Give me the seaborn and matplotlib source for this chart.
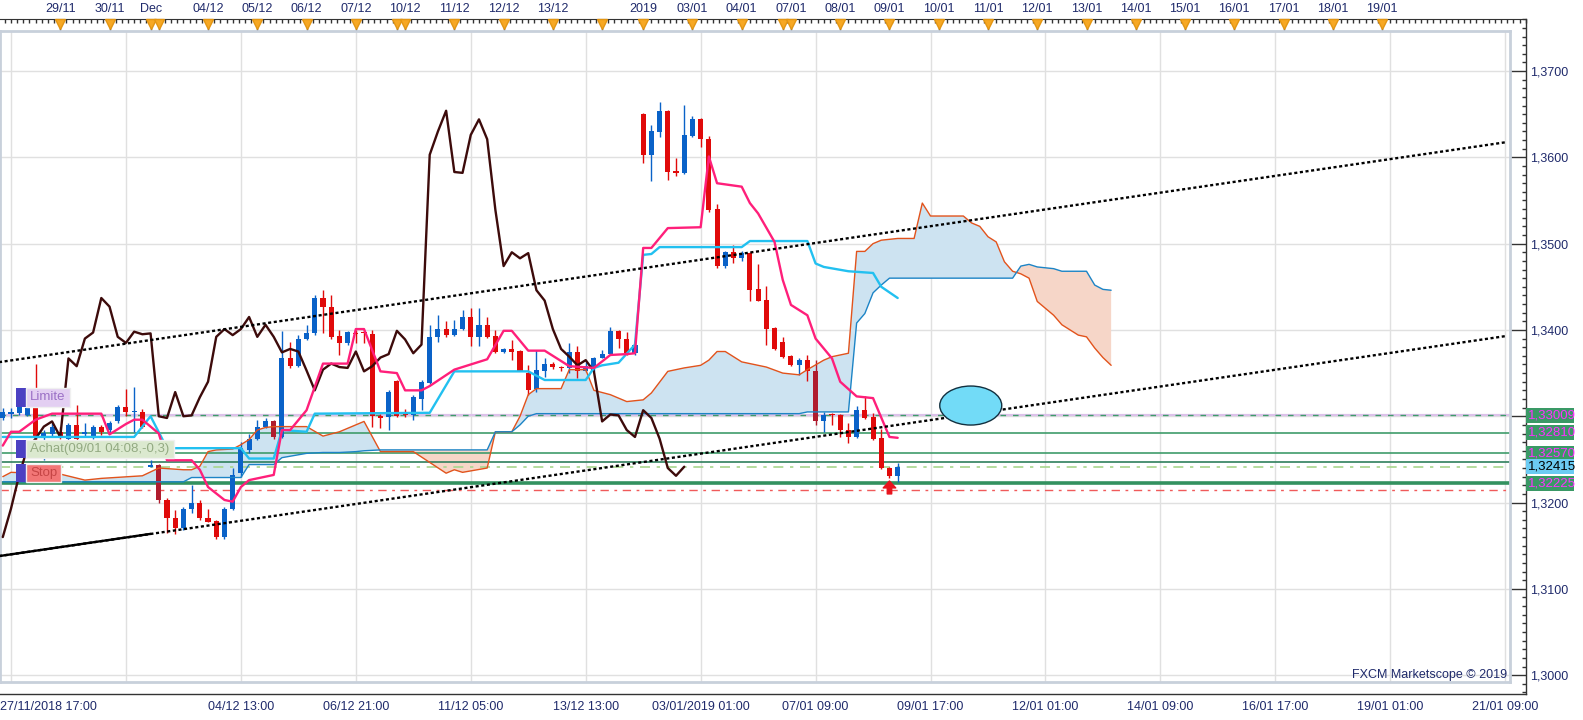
import numpy as np
import pandas as pd
import matplotlib
matplotlib.use("Agg")
import matplotlib.pyplot as plt
import matplotlib.transforms as mtransforms
from matplotlib.patches import Ellipse, Rectangle
from matplotlib.ticker import MultipleLocator, FuncFormatter
import seaborn as sns

sns.set_style("white")
plt.rcParams['font.family'] = ['Liberation Sans', 'DejaVu Sans']

# H4 candles, bar 0 = 27/11/2018 17:00
bars = list(range(-1, 109))
opens = [1.3298, 1.3303, 1.3304, 1.3302, 1.3311, 1.3276, 1.3280, 1.3282, 1.3274, 1.3290,
         1.3279, 1.3276, 1.3288, 1.3284, 1.3294, 1.3311, 1.3305, 1.3305, 1.3241, 1.3244,
         1.3203, 1.3182, 1.3170, 1.3192, 1.3200, 1.3182, 1.3179, 1.3160, 1.3193, 1.3234,
         1.3261, 1.3274, 1.3288, 1.3294, 1.3276, 1.3367, 1.3358, 1.3390, 1.3396, 1.3437,
         1.3427, 1.3393, 1.3385, 1.3397, 1.3397, 1.3395, 1.3300, 1.3299, 1.3341, 1.3302,
         1.3301, 1.3320, 1.3338, 1.3392, 1.3401, 1.3394, 1.3401, 1.3415, 1.3392, 1.3406,
         1.3393, 1.3374, 1.3378, 1.3376, 1.3350, 1.3331, 1.3353, 1.3361, 1.3357, 1.3356,
         1.3375, 1.3353, 1.3357, 1.3368, 1.3372, 1.3399, 1.3390, 1.3373, 1.3650, 1.3603,
         1.3629, 1.3654, 1.3584, 1.3582, 1.3625, 1.3644, 1.3621, 1.3540, 1.3474, 1.3490,
         1.3483, 1.3489, 1.3447, 1.3435, 1.3402, 1.3386, 1.3370, 1.3359, 1.3365, 1.3352,
         1.3294, 1.3303, 1.3301, 1.3284, 1.3276, 1.3307, 1.3299, 1.3275, 1.3240, 1.3231]
highs = [1.3310, 1.3310, 1.3314, 1.3313, 1.3360, 1.3284, 1.3292, 1.3288, 1.3292, 1.3313,
         1.3292, 1.3290, 1.3290, 1.3294, 1.3313, 1.3332, 1.3334, 1.3308, 1.3249, 1.3245,
         1.3205, 1.3191, 1.3195, 1.3220, 1.3203, 1.3192, 1.3180, 1.3195, 1.3240, 1.3270,
         1.3280, 1.3296, 1.3298, 1.3296, 1.3399, 1.3386, 1.3394, 1.3406, 1.3441, 1.3446,
         1.3441, 1.3400, 1.3399, 1.3400, 1.3400, 1.3400, 1.3303, 1.3330, 1.3342, 1.3308,
         1.3325, 1.3342, 1.3406, 1.3417, 1.3410, 1.3411, 1.3423, 1.3425, 1.3425, 1.3415,
         1.3400, 1.3379, 1.3388, 1.3377, 1.3359, 1.3377, 1.3367, 1.3363, 1.3358, 1.3385,
         1.3381, 1.3363, 1.3369, 1.3377, 1.3403, 1.3400, 1.3398, 1.3385, 1.3651, 1.3638,
         1.3664, 1.3655, 1.3599, 1.3661, 1.3648, 1.3645, 1.3625, 1.3546, 1.3491, 1.3498,
         1.3492, 1.3490, 1.3476, 1.3451, 1.3403, 1.3392, 1.3371, 1.3368, 1.3371, 1.3365,
         1.3305, 1.3304, 1.3303, 1.3292, 1.3312, 1.3323, 1.3304, 1.3285, 1.3241, 1.3246]
lows = [1.3296, 1.3298, 1.3302, 1.3300, 1.3272, 1.3249, 1.3276, 1.3274, 1.3272, 1.3272,
        1.3276, 1.3274, 1.3278, 1.3282, 1.3292, 1.3300, 1.3282, 1.3286, 1.3241, 1.3200,
        1.3165, 1.3164, 1.3168, 1.3188, 1.3180, 1.3177, 1.3158, 1.3158, 1.3191, 1.3230,
        1.3257, 1.3272, 1.3286, 1.3274, 1.3275, 1.3356, 1.3357, 1.3388, 1.3394, 1.3396,
        1.3390, 1.3371, 1.3383, 1.3385, 1.3385, 1.3288, 1.3286, 1.3284, 1.3299, 1.3299,
        1.3296, 1.3307, 1.3337, 1.3386, 1.3392, 1.3393, 1.3400, 1.3381, 1.3381, 1.3391,
        1.3373, 1.3373, 1.3365, 1.3352, 1.3325, 1.3328, 1.3346, 1.3355, 1.3353, 1.3350,
        1.3344, 1.3351, 1.3353, 1.3367, 1.3371, 1.3379, 1.3371, 1.3371, 1.3593, 1.3573,
        1.3623, 1.3574, 1.3578, 1.3581, 1.3624, 1.3612, 1.3537, 1.3472, 1.3472, 1.3478,
        1.3480, 1.3434, 1.3433, 1.3383, 1.3377, 1.3367, 1.3358, 1.3348, 1.3341, 1.3290,
        1.3282, 1.3290, 1.3276, 1.3269, 1.3275, 1.3297, 1.3273, 1.3239, 1.3228, 1.3224]
closes = [1.3305, 1.3305, 1.3311, 1.3309, 1.3276, 1.3281, 1.3287, 1.3276, 1.3290, 1.3274,
          1.3282, 1.3288, 1.3282, 1.3292, 1.3311, 1.3305, 1.3306, 1.3288, 1.3244, 1.3203,
          1.3182, 1.3170, 1.3193, 1.3200, 1.3182, 1.3178, 1.3160, 1.3193, 1.3232, 1.3263,
          1.3274, 1.3288, 1.3294, 1.3276, 1.3367, 1.3358, 1.3390, 1.3397, 1.3437, 1.3427,
          1.3392, 1.3385, 1.3398, 1.3395, 1.3396, 1.3300, 1.3298, 1.3328, 1.3300, 1.3301,
          1.3322, 1.3340, 1.3392, 1.3401, 1.3394, 1.3401, 1.3415, 1.3392, 1.3406, 1.3392,
          1.3374, 1.3378, 1.3375, 1.3353, 1.3330, 1.3354, 1.3361, 1.3357, 1.3356, 1.3375,
          1.3352, 1.3358, 1.3368, 1.3372, 1.3399, 1.3389, 1.3373, 1.3383, 1.3603, 1.3630,
          1.3654, 1.3583, 1.3582, 1.3626, 1.3644, 1.3621, 1.3539, 1.3474, 1.3490, 1.3483,
          1.3489, 1.3446, 1.3434, 1.3401, 1.3378, 1.3369, 1.3359, 1.3365, 1.3352, 1.3294,
          1.3302, 1.3301, 1.3284, 1.3276, 1.3307, 1.3298, 1.3274, 1.3240, 1.3231, 1.32415]
dark_bars = [18, 32, 98]

# Ichimoku lines
tenkan_x = [-1, 0, 1, 3, 5, 11, 12, 14, 15, 16, 18, 19, 22, 23, 24, 26, 27, 28, 29, 32,
            33, 34, 36, 37, 38, 41, 42, 43, 45, 47, 48, 50, 51, 54, 58, 60, 61, 63, 65, 68,
            71, 73, 75, 76, 77, 78, 80, 84, 85, 86, 89, 90, 91, 93, 94, 95, 97, 98, 100, 101,
            103, 105, 107, 108]
tenkan = [1.3266, 1.3282, 1.3282, 1.3296, 1.3303, 1.3303, 1.3279, 1.3291, 1.3296, 1.3296,
          1.3280, 1.3249, 1.3249, 1.3238, 1.3218, 1.3203, 1.3201, 1.3218, 1.3226, 1.3232,
          1.3284, 1.3284, 1.3307, 1.3334, 1.3361, 1.3361, 1.3401, 1.3401, 1.3352, 1.3350,
          1.3330, 1.3330, 1.3335, 1.3354, 1.3366, 1.3399, 1.3399, 1.3376, 1.3376, 1.3358,
          1.3356, 1.3371, 1.3372, 1.3373, 1.3495, 1.3495, 1.3518, 1.3519, 1.3601, 1.3570,
          1.3566, 1.3547, 1.3535, 1.3502, 1.3458, 1.3429, 1.3417, 1.3390, 1.3367, 1.3340,
          1.3323, 1.3321, 1.3276, 1.3275]
kijun_x = [-1, 15, 17, 19, 28, 29, 32, 33, 36, 37, 51, 54, 63, 65, 70, 71, 72, 74, 76, 77,
           78, 79, 89, 90, 97, 98, 99, 102, 105, 106, 108]
kijun = [1.3276, 1.3276, 1.3300, 1.3263, 1.3263, 1.3251, 1.3251, 1.3284, 1.3282, 1.3303,
         1.3304, 1.3352, 1.3352, 1.3342, 1.3342, 1.3356, 1.3359, 1.3362, 1.3383, 1.3487,
         1.3488, 1.3496, 1.3496, 1.3503, 1.3503, 1.3477, 1.3473, 1.3468, 1.3466, 1.3450,
         1.3437]
cloud_x = [-1, 0, 6, 9, 11, 16, 18, 21, 22, 23, 24, 25, 27, 28, 29, 30, 31, 32, 33, 36,
           38, 40, 42, 43, 45, 49, 53, 54, 55, 58, 59, 61, 62, 63, 64, 67, 68, 70, 71, 73,
           75, 77, 78, 80, 82, 84, 85, 86, 87, 88, 89, 90, 92, 94, 96, 97, 99, 100, 102, 103,
           104, 105, 106, 107, 108, 110, 111, 112, 116, 117, 118, 119, 120, 121, 122, 123, 124, 125, 126, 127,
           128, 130, 131, 132, 133, 134]
span_a = [1.3230, 1.3235, 1.3233, 1.3226, 1.3228, 1.3231, 1.3240, 1.3238, 1.3238, 1.3242,
          1.3259, 1.3261, 1.3262, 1.3267, 1.3273, 1.3284, 1.3287, 1.3288, 1.3288, 1.3288,
          1.3277, 1.3282, 1.3290, 1.3294, 1.3259, 1.3259, 1.3234, 1.3238, 1.3235, 1.3240,
          1.3282, 1.3282, 1.3300, 1.3325, 1.3332, 1.3332, 1.3354, 1.3354, 1.3330, 1.3325,
          1.3317, 1.3319, 1.3327, 1.3352, 1.3356, 1.3359, 1.3365, 1.3375, 1.3375, 1.3369,
          1.3363, 1.3361, 1.3357, 1.3350, 1.3348, 1.3354, 1.3365, 1.3369, 1.3373, 1.3491,
          1.3491, 1.3500, 1.3504, 1.3505, 1.3506, 1.3506, 1.3547, 1.3532, 1.3532, 1.3524,
          1.3520, 1.3508, 1.3502, 1.3479, 1.3468, 1.3465, 1.3460, 1.3433, 1.3425, 1.3417,
          1.3406, 1.3394, 1.3392, 1.3379, 1.3368, 1.3359]
span_b = ([1.3224] * 8 + [1.3229] * 6 + [1.3244] * 4
          + [1.3252, 1.3257, 1.3258, 1.3258, 1.3259, 1.3260]
          + [1.3261] * 6 + [1.3282, 1.3282, 1.3290, 1.3300]
          + [1.3303] * 21 + [1.3305] * 4
          + [1.3408, 1.3419, 1.3443, 1.3452]
          + [1.3460] * 12
          + [1.3474, 1.3476, 1.3473, 1.3472, 1.3471, 1.3468, 1.3468, 1.3468, 1.3452, 1.3447, 1.3446])

# channel lines (bar, price)
channel_x = [-2, 182]
upper_line = [1.33619, 1.36174]
lower_line = [1.31372, 1.33928]
lower_solid_x = [-2, 17]
lower_solid = [1.31372, 1.31637]

# order levels
order_prices = [1.33009, 1.32810, 1.32570, 1.32470, 1.32415, 1.32225, 1.32140]
tag_prices = [1.33009, 1.32810, 1.32570, 1.32415, 1.32225]
tag_labels = ['1,33009', '1,32810', '1,32570', '1,32415', '1,32225']

# target ellipse and entry arrow
target_center = (116.9, 1.33124)
target_size = (7.55, 0.00452)
entry_bar = 107
entry_arrow = (1.3210, 1.3225)

grid_bars = list(range(0, 183, 14))
bottom_labels = ['27/11/2018 17:00', '', '04/12 13:00', '06/12 21:00', '11/12 05:00', '13/12 13:00',
                 '03/01/2019 01:00', '07/01 09:00', '09/01 17:00', '12/01 01:00', '14/01 09:00',
                 '16/01 17:00', '19/01 01:00', '21/01 09:00']
day_bars = [6, 12, 17, 18, 24, 30, 36, 42, 47, 48, 54, 60, 66, 72, 77, 83, 89, 94, 95, 101,
            107, 113, 119, 125, 131, 137, 143, 149, 155, 161, 167]
day_labels = ['29/11', '30/11', 'Dec', '', '04/12', '05/12', '06/12', '07/12', '', '10/12',
              '11/12', '12/12', '13/12', '', '2019', '03/01', '04/01', '', '07/01', '08/01',
              '09/01', '10/01', '11/01', '12/01', '13/01', '14/01', '15/01', '16/01', '17/01',
              '18/01', '19/01']

df = pd.DataFrame({'bar': bars, 'open': opens, 'high': highs, 'low': lows, 'close': closes})
df['chikou'] = df['close'].shift(-26)

# ---- layout (pixels of the 1583x720 picture)
W, H = 1583, 720
BAR_PX, BAR0_PX = 8.21, 11
PRICE0, PRICE_PX = 1.37823, 0.00011587


def bar_at(px):
    return (px - BAR0_PX) / BAR_PX


def price_at(py):
    return PRICE0 - py * PRICE_PX


def box(l, t, r, b):
    return [l / W, 1 - b / H, (r - l) / W, (b - t) / H]


TXT = '#1f2a6b'
BLUE, RED, DARKRED = '#0a62c8', '#e00a0a', '#b01c2e'
GREEN = '#3f9c6b'

fig = plt.figure(figsize=(15.83, 7.2), dpi=100)
ax_out = fig.add_axes(box(0, 19, 1526, 694))
ax = fig.add_axes(box(0, 31, 1510, 682))
ax_out.set_zorder(0)
ax.set_zorder(1)

ax.set_xlim(bar_at(0), bar_at(1510))
ax.set_ylim(price_at(682), price_at(31))
ax_out.set_xlim(bar_at(0), bar_at(1526))
ax_out.set_ylim(price_at(694), price_at(19))

# main panel grid and frame
ax.set_xticks(grid_bars)
ax.set_yticks(np.arange(1.30, 1.3705, 0.01))
ax.set_axisbelow(True)
ax.grid(True, color='#e0e0e0', lw=1)
ax.tick_params(length=0, labelbottom=False, labelleft=False)
for s in ax.spines.values():
    s.set_color('#c8d0db')
    s.set_linewidth(2)

# cloud
ca, cb = np.array(span_a), np.array(span_b)
ax.fill_between(cloud_x, ca, cb, where=ca >= cb, interpolate=True, color='#cde3f1', lw=0, zorder=1)
ax.fill_between(cloud_x, ca, cb, where=ca < cb, interpolate=True, color='#f6d6c8', lw=0, zorder=1)

# order levels
ax.axhline(order_prices[0], color='#dcc2ea', lw=1.6, zorder=1.5)
ax.axhline(order_prices[0], color=GREEN, lw=1, ls=(0, (4, 5)), zorder=1.6)
ax.axhline(order_prices[1], color=GREEN, lw=1.2, zorder=1.5)
ax.axhline(order_prices[2], color=GREEN, lw=1.2, zorder=1.5)
ax.axhline(order_prices[3], color='#2f7f5c', lw=1.2, zorder=1.5)
ax.axhline(order_prices[4], color='#a8d68e', lw=1.2, ls=(0, (6, 4, 2, 4)), zorder=1.5)
ax.axhline(order_prices[5], color='#33915f', lw=2.6, zorder=1.5)
ax.axhline(order_prices[6], color='#f05a5a', lw=1, ls=(0, (6, 4, 2, 4)), zorder=1.5)

# candles
colors = [BLUE if c >= o else RED for o, c in zip(df['open'], df['close'])]
colors = [DARKRED if b in dark_bars else col for b, col in zip(df['bar'], colors)]
ax.vlines(df['bar'], df['low'], df['high'], colors=colors, lw=1, zorder=3)
body = np.maximum((df['close'] - df['open']).abs(), 0.00012)
ax.bar(df['bar'], body, bottom=np.minimum(df['open'], df['close']), width=0.62,
       color=colors, lw=0, zorder=3.2)

# ichimoku lines
sns.lineplot(x=cloud_x, y=span_a, ax=ax, color='#e2531c', lw=1, zorder=3.5)
sns.lineplot(x=cloud_x, y=span_b, ax=ax, color='#1c84c6', lw=1, zorder=3.5)
sns.lineplot(data=df.dropna(subset=['chikou']), x='bar', y='chikou', ax=ax,
             color='#3d0b0b', lw=1.7, zorder=4)
sns.lineplot(x=kijun_x, y=kijun, ax=ax, color='#22c0f0', lw=1.7, zorder=4.1)
sns.lineplot(x=tenkan_x, y=tenkan, ax=ax, color='#ff1f7a', lw=1.7, zorder=4.2)

# channel
ax.plot(channel_x, upper_line, color='black', lw=1.7, ls=(0, (1.3, 1.1)), zorder=5)
ax.plot(channel_x, lower_line, color='black', lw=1.7, ls=(0, (1.3, 1.1)), zorder=5)
ax.plot(lower_solid_x, lower_solid, color='black', lw=1.7, zorder=5)

ax.add_patch(Ellipse(target_center, target_size[0], target_size[1], fc='#72dbf7',
                     ec='#12303f', lw=1, zorder=6))
ax.annotate('', xy=(entry_bar, entry_arrow[1]), xytext=(entry_bar, entry_arrow[0]),
            arrowprops=dict(facecolor='#e8141e', edgecolor='#e8141e', width=3.2,
                            headwidth=9, headlength=5, shrink=0), zorder=6)
ax.set_xlabel('')
ax.set_ylabel('')
if ax.get_legend():
    ax.get_legend().remove()


# order labels on the left
def fy(py):
    return (682 - py) / 651


def order_label(text, top, bottom, right, face, fg):
    tr = ax.transAxes
    ax.add_patch(Rectangle((16 / 1510, fy(bottom)), 10 / 1510, fy(top) - fy(bottom),
                           transform=tr, fc='#4b40c2', ec='none', zorder=8))
    ax.add_patch(Rectangle((26 / 1510, fy(bottom)), (right - 26) / 1510, fy(top) - fy(bottom),
                           transform=tr, fc=face, ec='#f0f0f0', lw=1, zorder=8))
    ax.text(30 / 1510, fy((top + bottom) / 2), text, transform=tr, color=fg,
            fontsize=9.5, va='center', ha='left', zorder=9)


order_label('Limite', 388, 407, 70, '#e3cff2', '#9b70c6')
order_label('Achat(09/01 04:08,-0,3)', 440, 458, 174, '#dbe9cf', '#93aa82')
order_label('Stop', 464, 482, 61, '#f27676', '#c54545')

ax.text(1507 / 1510, fy(675), 'FXCM Marketscope \u00a9 2019', transform=ax.transAxes,
        ha='right', va='center', fontsize=9, color=TXT, zorder=9)

# ---- rulers
ax_out.set_facecolor('none')
ax_out.spines['left'].set_visible(False)
ax_out.spines['top'].set_visible(False)
for k in ['right', 'bottom']:
    ax_out.spines[k].set_color('#333333')
    ax_out.spines[k].set_linewidth(1)

ax_out.set_xticks(grid_bars, labels=bottom_labels)
ax_out.xaxis.set_minor_locator(MultipleLocator(1.75))
ax_out.tick_params(axis='x', which='major', direction='in', length=8.6, width=1,
                   pad=5, labelsize=9, labelcolor=TXT, color='#333333')
ax_out.tick_params(axis='x', which='minor', direction='in', length=3, width=1, color='#333333')
first = ax_out.xaxis.get_major_ticks()[0].label1
first.set_horizontalalignment('left')
first.set_transform(first.get_transform()
                    + mtransforms.ScaledTranslation(-11 / 100, 0, fig.dpi_scale_trans))


def price_label(v, _):
    # the 1,3300 label sits under the limit tag in the reference
    if abs(v - 1.33) < 1e-6:
        return ''
    return f"{v:.4f}".replace('.', ',')


ax_out.yaxis.tick_right()
ax_out.set_yticks(np.arange(1.30, 1.3705, 0.01))
ax_out.yaxis.set_major_formatter(FuncFormatter(price_label))
ax_out.yaxis.set_minor_locator(MultipleLocator(0.001))
ax_out.tick_params(axis='y', which='major', direction='in', length=11.5, width=1,
                   pad=3, labelsize=9, labelcolor=TXT, color='#333333')
ax_out.tick_params(axis='y', which='minor', direction='in', length=3, width=1, color='#333333')

sec = ax_out.secondary_xaxis('top')
sec.set_xticks(day_bars, labels=day_labels)
sec.xaxis.set_minor_locator(MultipleLocator(0.75))
sec.tick_params(which='major', direction='in', length=8.6, width=1, pad=3,
                labelsize=9, labelcolor=TXT, color='#333333')
sec.tick_params(which='minor', direction='in', length=3, width=1, color='#333333')
sec.spines['top'].set_color('#333333')

tri_tr = mtransforms.blended_transform_factory(ax_out.transData, ax_out.transAxes)
ax_out.plot(day_bars, [1 - 4.5 / 675] * len(day_bars), transform=tri_tr, ls='none',
            marker='v', ms=7, mfc='#f7a823', mec='#e39512', clip_on=False, zorder=6)

# price tags
tag_tr = mtransforms.blended_transform_factory(ax_out.transAxes, ax_out.transData)
for price, label in zip(tag_prices, tag_labels):
    current = price == closes[-1]
    ax_out.add_patch(Rectangle((1.0, price - 0.00087), 48 / 1526, 0.00174, transform=tag_tr,
                               fc='#6ccbf3' if current else '#3a9966', ec='none',
                               clip_on=False, zorder=5))
    ax_out.text(1.0 + 2 / 1526, price, label, transform=tag_tr, ha='left', va='center',
                fontsize=9.5, color='black' if current else '#ff30ff', zorder=6, clip_on=False)

fig.savefig('out.png', dpi=100)
